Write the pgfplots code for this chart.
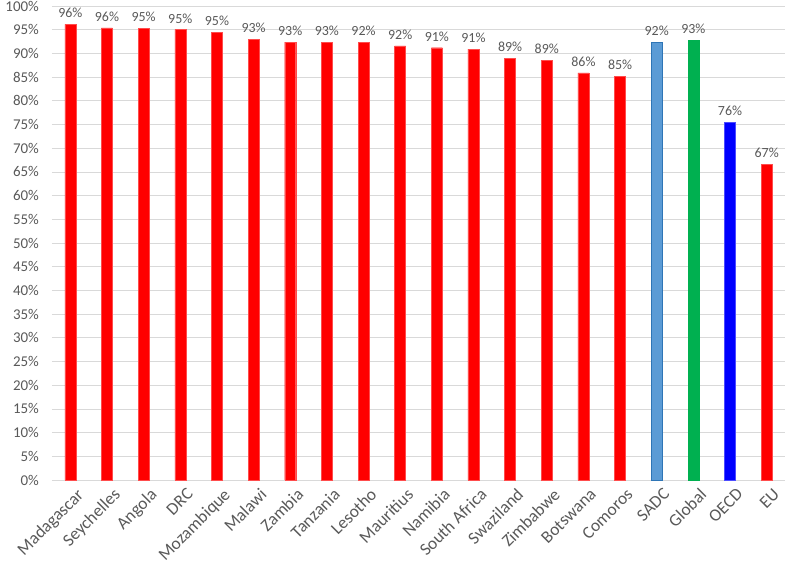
\documentclass[border=0pt]{standalone}
\usepackage{pgfplots}
\usepackage{pgfplotstable}
\pgfplotsset{compat=1.18}
\usepackage{fontspec}
\setmainfont{Carlito}
\definecolor{txtgray}{HTML}{595959}
\definecolor{gridgray}{HTML}{D9D9D9}
\definecolor{sadcblue}{HTML}{5B9BD5}
\definecolor{sadcedge}{HTML}{2E75B6}
\definecolor{globalgreen}{HTML}{00B050}
\pgfplotstableread{
x y lab
0 96.1 96
1 95.4 96
2 95.3 95
3 95.0 95
4 94.5 95
5 93.0 93
6 92.4 93
7 92.4 93
8 92.4 92
9 91.6 92
10 91.2 91
11 90.9 91
12 89.0 89
13 88.6 89
14 85.9 86
15 85.1 85
}\redtab
\pgfplotstableread{
x y lab
16 92.3 92
}\sadctab
\pgfplotstableread{
x y lab
17 92.7 93
}\globaltab
\pgfplotstableread{
x y lab
18 75.5 76
}\oecdtab
\pgfplotstableread{
x y lab
19 66.7 67
}\eutab
\begin{document}
\begin{tikzpicture}
\begin{axis}[
  name=ax,
  scale only axis,
  width=733bp, height=474bp,
  xmin=-0.5, xmax=19.5,
  ymin=0, ymax=100,
  ytick={0,5,...,100},
  yticklabel={\pgfmathparse{int(round(\tick))}\pgfmathresult\%},
  xtick={0,...,19},
  xticklabels={Madagascar,Seychelles,Angola,DRC,Mozambique,Malawi,Zambia,Tanzania,Lesotho,Mauritius,Namibia,South Africa,Swaziland,Zimbabwe,Botswana,Comoros,SADC,Global,OECD,EU},
  xticklabel style={rotate=45, anchor=north east, font=\fontsize{17.5}{19}\selectfont, text=txtgray, inner sep=1pt, xshift=0pt, yshift=-8pt},
  yticklabel style={font=\fontsize{15}{17}\selectfont, text=txtgray, xshift=-12pt, inner sep=1pt},
  major tick length=0pt,
  axis line style={draw=none},
  ymajorgrids, grid style={gridgray, line width=0.8pt},
  ybar, bar shift=0pt, bar width=0.3,
  point meta=explicit symbolic,
  nodes near coords={\pgfplotspointmeta\%},
  nodes near coords style={font=\fontsize{14}{16}\selectfont, text=txtgray, yshift=3pt},
  clip=false,
]
\addplot[fill=red, draw=red!70!white, line width=0.4pt] table[x=x, y=y, meta=lab] {\redtab};
\addplot[fill=sadcblue, draw=sadcedge, line width=0.8pt] table[x=x, y=y, meta=lab] {\sadctab};
\addplot[fill=globalgreen, draw=globalgreen, line width=0.4pt] table[x=x, y=y, meta=lab] {\globaltab};
\addplot[fill=blue, draw=blue!70!white, line width=0.4pt] table[x=x, y=y, meta=lab] {\oecdtab};
\addplot[fill=red, draw=red!70!white, line width=0.4pt] table[x=x, y=y, meta=lab] {\eutab};
\end{axis}
\pgfresetboundingbox
\path[use as bounding box] ([xshift=-52bp,yshift=-86bp]ax.south west) rectangle ([xshift=2bp,yshift=6bp]ax.north east);
\end{tikzpicture}
\end{document}
